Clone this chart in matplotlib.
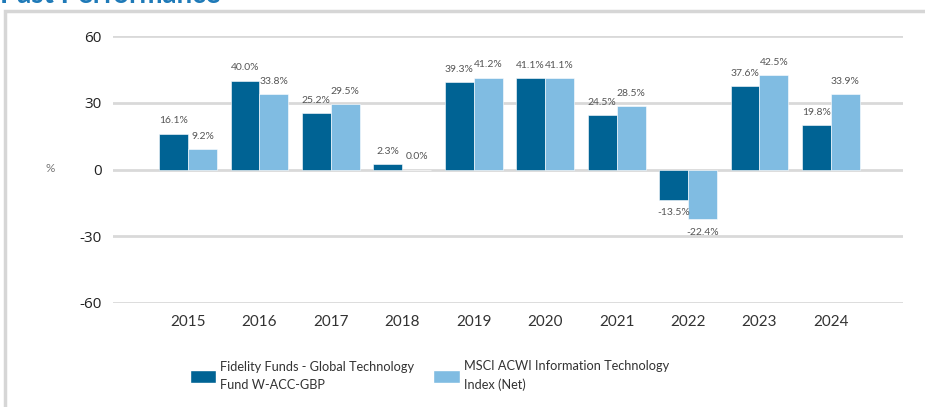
#!/usr/bin/env python3
"""Past performance: fund vs index calendar-year returns."""

import numpy as np
import matplotlib
matplotlib.use("Agg")
import matplotlib.pyplot as plt
from matplotlib.patches import Rectangle, Patch

YEARS = ["2015", "2016", "2017", "2018", "2019", "2020", "2021", "2022", "2023", "2024"]
FUND = [16.1, 40.0, 25.2, 2.3, 39.3, 41.1, 24.5, -13.5, 37.6, 19.8]
INDEX = [9.2, 33.8, 29.5, 0.0, 41.2, 41.1, 28.5, -22.4, 42.5, 33.9]
FUND_NAME = "Fidelity Funds - Global Technology\nFund W-ACC-GBP"
INDEX_NAME = "MSCI ACWI Information Technology\nIndex (Net)"

DARK = "#006394"
LIGHT = "#80bce2"
GRID = "#d9d9d9"
TXT = "#555555"

plt.rcParams["font.family"] = ["Lato", "DejaVu Sans"]

W, H = 925, 407
fig = plt.figure(figsize=(W / 100, H / 100), dpi=100)

# axes placed in pixel terms
left, right, top, bottom = 113, 903, 36, 303
ax = fig.add_axes([left / W, 1 - bottom / H, (right - left) / W, (bottom - top) / H])

x = np.arange(len(YEARS))
bw = 0.405
ax.bar(x - bw / 2, FUND, bw, color=DARK, edgecolor="white", linewidth=0.4, zorder=3)
ax.bar(x + bw / 2, INDEX, bw, color=LIGHT, edgecolor="white", linewidth=0.4, zorder=3)

for xs, vals in ((x - bw / 2, FUND), (x + bw / 2, INDEX)):
    for xi, v in zip(xs, vals):
        if v >= 0:
            ax.annotate(f"{v:.1f}%", (xi, v), xytext=(0, 6), textcoords="offset points",
                        ha="center", va="bottom", fontsize=7.5, color=TXT)
        else:
            ax.annotate(f"{v:.1f}%", (xi, v), xytext=(0, -6), textcoords="offset points",
                        ha="center", va="top", fontsize=7.5, color=TXT)

ax.set_ylim(-60, 60)
ax.set_xlim(-1.05, 10.01)
ax.set_yticks([-60, -30, 0, 30, 60])
ax.set_yticklabels(["-60", "-30", "0", "30", "60"])
ax.set_xticks(x)
ax.set_xticklabels(YEARS)
ax.tick_params(axis="y", length=0, pad=8, labelsize=11, labelcolor="#222222")
ax.tick_params(axis="x", length=0, pad=9, labelsize=11, labelcolor="#333333")
for lab in ax.get_yticklabels():
    lab.set_fontfamily(["Open Sans", "DejaVu Sans"])
ax.grid(axis="y", color=GRID, linewidth=2, zorder=0)
for s in ax.spines.values():
    s.set_visible(False)

fig.text(50 / W, 1 - 168 / H, "%", ha="center", va="center", fontsize=8.5, color="#777777")

# outer frame and the clipped section title
fig.patches.append(Rectangle((5 / W, -0.1), 1.2, 1 - 11 / H + 0.1, transform=fig.transFigure,
                             fill=False, edgecolor="#d6d6d6", linewidth=2.5))
fig.text(0.0, 1 - 3 / H, "Past Performance", ha="left", va="baseline",
         fontsize=20, color="#1f7ab8", fontweight="bold")

handles = [Patch(facecolor=DARK, edgecolor="white"), Patch(facecolor=LIGHT, edgecolor="white")]
leg = fig.legend(handles, [FUND_NAME, INDEX_NAME], loc="upper left", ncol=2,
                 bbox_to_anchor=(178 / W, 1 - 349 / H), frameon=False, fontsize=9.2,
                 handlelength=2.1, handleheight=1.1, handletextpad=0.3, columnspacing=1.5,
                 labelcolor="#333333")
for t in leg.get_texts():
    t.set_linespacing(1.6)

fig.savefig("out.png", dpi=100)
